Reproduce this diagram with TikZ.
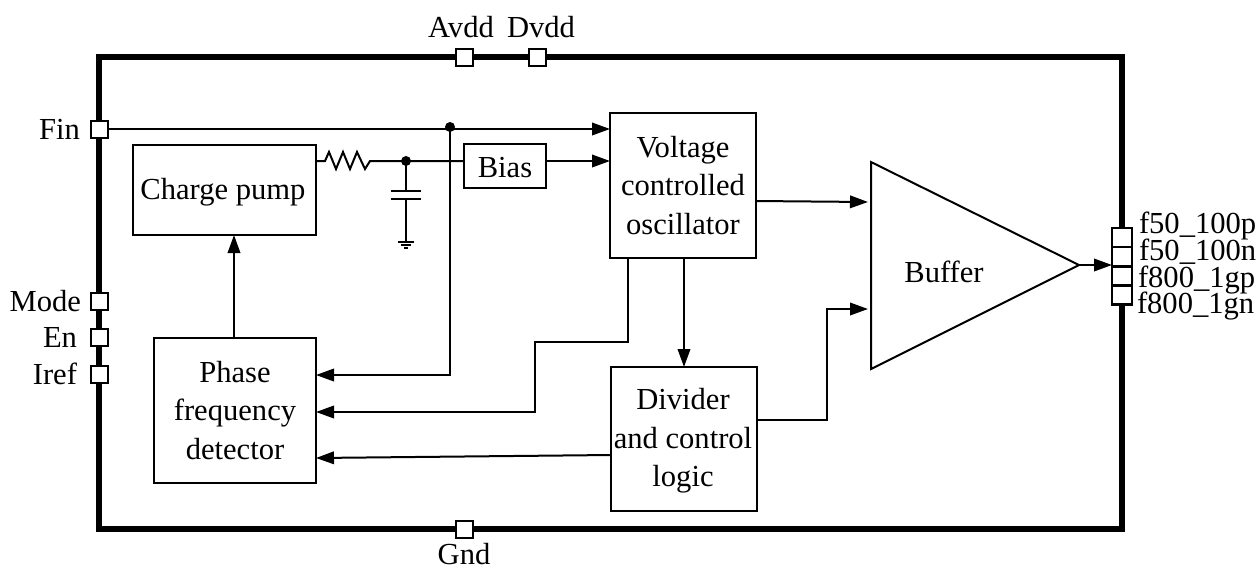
\documentclass[tikz,border=0pt]{standalone}
\usepackage{fontspec}
\setmainfont{Liberation Serif}
\usetikzlibrary{arrows.meta}
\usetikzlibrary{shapes.geometric, positioning}

\tikzset{
  blockbox/.style={draw, fill=white, line width=0.4mm, inner sep=0pt, outer sep=0pt, align=center},
  pad/.style={draw, fill=white, line width=0.4mm, inner sep=0pt, outer sep=0pt, minimum size=3.4mm},
  outpad/.style={draw, fill=white, line width=0.5mm, inner sep=0pt, outer sep=0pt, minimum width=4mm, minimum height=3.84mm},
  lbl/.style={inner sep=0pt, outer sep=0pt, align=center},
  wire/.style={line width=0.4mm},
  arrowwire/.style={line width=0.4mm, -{Triangle[length=3.6mm, width=2.5mm]}},
  dot/.style={circle, fill=black, inner sep=0pt, minimum size=2mm}
}

\begin{document}
\begin{tikzpicture}[x=0.2mm, y=-0.2mm, font=\fontsize{17.4pt}{22pt}\selectfont]
  \useasboundingbox (0, 0) rectangle (1260, 566);

  \node[draw, line width=1.1mm, inner sep=0pt, outer sep=0pt, minimum width=204.6mm, minimum height=94.4mm] (chip) at (610.5, 293) {};

  % pads
  \node[pad] (fin) at (99, 129) {};
  \node[pad] (mode) at (99, 301) {};
  \node[pad] (en) at (99, 337) {};
  \node[pad] (iref) at (99, 374) {};
  \node[pad] (avdd) at (464, 57) {};
  \node[pad] (dvdd) at (537, 57) {};
  \node[pad] (gnd) at (464, 529) {};
  \node[outpad] (o1) at (1122, 237.5) {};
  \node[outpad] (o2) at (1122, 256.7) {};
  \node[outpad] (o3) at (1122, 276) {};
  \node[outpad] (o4) at (1122, 295) {};

  \node[lbl, left=2.1mm of fin] (finl) {Fin};
  \node[lbl, left=1.9mm of mode] (model) {Mode};
  \node[lbl, left=2.7mm of en] (enl) {En};
  \node[lbl, left=2.7mm of iref] (irefl) {Iref};
  \node[lbl] (avddl) at (461, 27) {Avdd};
  \node[lbl] (dvddl) at (541, 27) {Dvdd};
  \node[lbl] (gndl) at (464, 554) {Gnd};
  \node[lbl, anchor=base west] (o1l) at (1139, 233) {f50\_100p};
  \node[lbl, anchor=base west] (o2l) at (1139, 260) {f50\_100n};
  \node[lbl, anchor=base west] (o3l) at (1138, 287) {f800\_1gp};
  \node[lbl, anchor=base west] (o4l) at (1137, 313) {f800\_1gn};

  % blocks
  \node[blockbox, minimum width=36.6mm, minimum height=18mm] (cp) at (224.5, 190) {};
  \node[lbl] (cpl) at (223, 192) {Charge pump};
  \node[blockbox, minimum width=32.4mm, minimum height=29mm] (pfd) at (235, 410.5) {Phase\\frequency\\detector};
  \node[blockbox, minimum width=29.2mm, minimum height=29mm] (vco) at (683, 185.5) {Voltage\\controlled\\oscillator};
  \node[blockbox, minimum width=29.2mm, minimum height=28.8mm] (div) at (684, 439) {};
  \node[lbl] (divl) at (683, 441) {Divider\\and control\\logic};
  \node[blockbox, minimum width=16.4mm, minimum height=8.8mm] (bias) at (505, 166) {};
  \node[lbl] (biasl) at (505, 168) {Bias};
  \draw[wire] (871, 162) -- (871, 369) -- (1079, 265) coordinate (bufout) -- cycle;
  \node[lbl] (buf) at (944, 272) {Buffer};

  % connectors
  \coordinate (bufa) at (868, 202);
  \coordinate (bufb) at (868, 309);
  \coordinate (vcoa) at (610, 129);
  \coordinate (vcob) at (610, 161);
  \coordinate (pfda) at (316, 375);
  \coordinate (pfdb) at (316, 412);
  \coordinate (pfdc) at (316, 458);
  \coordinate (cpout) at (316, 161);
  \coordinate (biasin) at (464, 161);
  \coordinate (biasout) at (546, 161);

  \draw[arrowwire] (fin) -- (vcoa);
  \node[dot] (j1) at (450, 127) {};
  \draw[arrowwire] (j1.center) -- (450, 375) -- (pfda);
  \draw[wire] (cpout) -- (325, 161) -- (329, 152) -- (336, 169) -- (343, 152) -- (350, 169) -- (357, 152) -- (365, 169) -- (370, 161) -- (biasin);
  \draw[arrowwire] (biasout) -- (vcob);

  \node[dot] (j2) at (406, 161) {};
  \coordinate (capa) at (406, 191);
  \coordinate (capb) at (406, 199);
  \coordinate (earth) at (406, 242);
  \draw[wire] (j2.center) -- (capa);
  \draw[wire] (capb) -- (earth);
  \draw[wire] (391, 191) -- (421, 191);
  \draw[wire] (391, 199) -- (421, 199);
  \draw[wire] (398, 242) -- (414, 242);
  \draw[wire] (401, 245) -- (411, 245);
  \draw[wire] (404, 248) -- (408, 248);

  \draw[arrowwire] (234, 338) -- (234, 235);
  \draw[arrowwire] (628, 258) -- (628, 342) -- (535, 342) -- (535, 412) -- (pfdb);
  \draw[arrowwire] (684, 258) -- (div.north);
  \draw[arrowwire] (611, 455) -- (pfdc);
  \draw[arrowwire] (756, 201) -- (bufa);
  \draw[arrowwire] (757, 420) -- (827, 420) -- (827, 309) -- (bufb);
  \draw[arrowwire] (bufout) -- (1112, 265);
\end{tikzpicture}
\end{document}
